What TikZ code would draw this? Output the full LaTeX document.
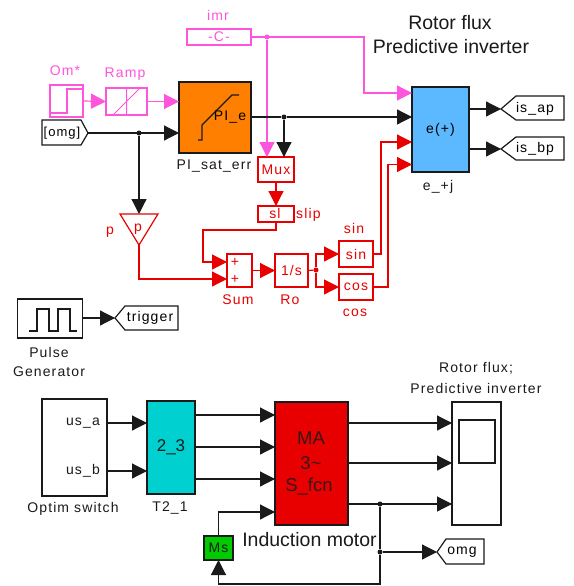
\documentclass[tikz,border=0pt]{standalone}
\usepackage{fontspec}
\setmainfont{Liberation Sans}
\newfontfamily\spaced[LetterSpace=8]{Liberation Sans}
\usetikzlibrary{arrows.meta,positioning}
\definecolor{pk}{HTML}{FF55DD}
\definecolor{rd}{HTML}{E80000}
\definecolor{og}{HTML}{FF8000}
\definecolor{bl}{HTML}{5CB8FF}
\definecolor{cy}{HTML}{00D0D0}
\definecolor{gr}{HTML}{00CC00}
\definecolor{ln}{HTML}{1A1A1A}
\tikzset{
 lab/.style={font=\spaced\fontsize{14}{16}\selectfont,inner sep=0pt,text=ln},
 small/.style={font=\spaced\fontsize{13}{15}\selectfont,inner sep=0pt,text=black},
 big/.style={font=\fontsize{19.5}{22}\selectfont,inner sep=0pt,text=ln},
 motor/.style={font=\fontsize{18.5}{20}\selectfont,inner sep=0pt,text=ln!85!rd},
 blk/.style={draw=#1,line width=1.2pt,inner sep=0pt,outer sep=0pt},
 wire/.style={draw=#1,line width=1.2pt,-{Triangle[length=15pt,width=15pt]}},
 seg/.style={draw=#1,line width=1.2pt},
 dotn/.style={circle,fill=#1,inner sep=0pt,minimum size=5pt},
}
\begin{document}
\begin{tikzpicture}[x=1pt,y=-1pt]
\useasboundingbox (0,0) rectangle (573,586);
\fill[white] (0,0) rectangle (573,586);

% --- titles
\node[big] (t1) at (450,23) {Rotor flux};
\node[big] (t2) at (451,47) {Predictive inverter};

% --- pink blocks
\node[blk=pk,minimum width=64pt,minimum height=16pt,lab,text=pk] (imr) at (219,37) {-C-};
\node[lab,text=pk] (imrl) at (218,15) {imr};
\node[blk=pk,minimum width=33pt,minimum height=32pt] (om) at (66.5,101) {};
\draw[pk,line width=1.2pt] (50,113) -- (67,113) -- (67,89) -- (83,89);
\node[lab,text=pk] (oml) at (65,71) {Om*};
\node[blk=pk,minimum width=41pt,minimum height=27pt] (ramp) at (126.5,101.5) {};
\draw[pk,line width=1pt] (ramp.north) -- (ramp.south) (114,114) -- (139,89);
\node[lab,text=pk] (rampl) at (125,74) {Ramp};

% --- PI block
\node[blk=ln,fill=og,minimum width=72pt,minimum height=71pt] (pi) at (215,117.5) {};
\draw[ln,line width=1.2pt] (198,140) -- (202,140) -- (202,125) -- (232,95) -- (239,95);
\node[lab,text=black] (pit) at (230,117) {PI\_e};
\node[lab] (pil) at (214,166) {PI\_sat\_err};

% --- omg from
\draw[ln,line width=1.2pt] (42,120) -- (81,120) -- (88,133) -- (81,145) -- (42,145) -- cycle;
\coordinate (omgout) at (88,133);
\node[small] (omgt) at (62,133) {[omg]};

% --- e block
\node[blk=ln,fill=bl,minimum width=57pt,minimum height=85pt,lab,text=black] (e) at (440.5,129.5) {e(+)};
\node[lab] (el) at (438,187) {e\_+j};
\coordinate (e1) at (412,93);
\coordinate (e2) at (412,117);
\coordinate (e3) at (412,142);
\coordinate (e4) at (412,164.5);

% --- is gotos
\draw[ln,line width=1.2pt] (501,109) -- (516,96) -- (564,96) -- (564,120) -- (516,120) -- cycle;
\coordinate (ap) at (501,109);
\node[lab,text=black] (apt) at (535,109) {is\_ap};
\draw[ln,line width=1.2pt] (501,149) -- (516,137) -- (564,137) -- (564,160) -- (516,160) -- cycle;
\coordinate (bp) at (501,149);
\node[lab,text=black] (bpt) at (535,149) {is\_bp};

% --- red blocks
\node[blk=rd,minimum width=36pt,minimum height=25pt,lab,text=rd] (mux) at (276,169.5) {Mux};
\node[blk=rd,minimum width=36pt,minimum height=16pt] (sl) at (276,214) {};
\node[lab,text=rd] (slt) at (275,213.5) {sl};
\node[lab,text=rd,anchor=west] (slipl) at (296,215) {slip};
\draw[rd,line width=1.2pt] (120,214) -- (158,214) -- (139,245) -- cycle;
\coordinate (ptop) at (139,214);
\coordinate (pout) at (139,245);
\node[lab,text=rd] (pt) at (138,229) {p};
\node[lab,text=rd] (pl) at (110,232) {p};
\node[blk=rd,minimum width=25pt,minimum height=33pt] (sum) at (239.5,270.5) {};
\node[lab,text=rd] (s1) at (235,262) {+};
\node[lab,text=rd] (s2) at (235,279) {+};
\node[lab,text=rd] (suml) at (238,300) {Sum};
\node[blk=rd,minimum width=33pt,minimum height=33pt,lab,text=rd] (ro) at (291.5,270.5) {1/s};
\node[lab,text=rd] (rol) at (290,300) {Ro};
\node[blk=rd,minimum width=34pt,minimum height=26pt,lab,text=rd] (sin) at (356,254) {sin};
\node[blk=rd,minimum width=34pt,minimum height=26pt,lab,text=rd] (cos) at (356,287) {cos};
\node[lab,text=rd] (sinl) at (354,228) {sin};
\node[lab,text=rd] (cosl) at (355,313) {cos};

% --- pulse
\node[blk=ln,minimum width=65pt,minimum height=39pt] (pulse) at (50,318.5) {};
\draw[ln,line width=1.2pt] (29,331) -- (37,331) -- (37,309) -- (49,309) -- (49,331) -- (58,331) -- (58,309) -- (70,309) -- (70,331) -- (77,331);
\node[lab] (pul1) at (49,352) {Pulse};
\node[lab] (pul2) at (49,372) {Generator};
\draw[ln,line width=1.2pt] (115,318) -- (125,306) -- (178,306) -- (178,330) -- (125,330) -- cycle;
\coordinate (trg) at (115,318);
\node[lab,text=black] (trgt) at (150,318) {trigger};

% --- lower row
\node[blk=ln,minimum width=65pt,minimum height=97pt] (opt) at (74.5,447.5) {};
\node[lab,anchor=east] (usa) at (100,423) {us\_a};
\node[lab,anchor=east] (usb) at (100,471) {us\_b};
\node[lab] (optl) at (73,509) {Optim switch};
\node[blk=ln,fill=cy,minimum width=48pt,minimum height=93pt,inner sep=0pt,font=\fontsize{17}{19}\selectfont,text=ln] (t) at (171,447.5) {2\_3};
\node[lab] (tl) at (170,508) {T2\_1};
\node[blk=ln,fill=rd,minimum width=73pt,minimum height=123pt] (ma) at (311.5,463.5) {};
\node[motor] (ma1) at (311,438) {MA};
\node[motor] (ma2) at (311,463) {3\char`\~};
\node[motor] (ma3) at (309,487) {S\_fcn};
\node[big] (mal) at (309.5,540) {Induction motor};
\node[blk=ln,fill=gr,minimum width=29pt,minimum height=24pt,lab,text=ln] (ms) at (218.5,548) {Ms};
\node[blk=ln,minimum width=49pt,minimum height=123pt] (sc) at (476.5,463.5) {};
\node[blk=ln,minimum width=36pt,minimum height=43pt] (sci) at (477,441.5) {};
\node[lab] (scl1) at (476,368) {Rotor flux;};
\node[lab] (scl2) at (476,388) {Predictive inverter};
\draw[ln,line width=1.2pt] (437,552) -- (446,539) -- (484,539) -- (484,564) -- (446,564) -- cycle;
\coordinate (omgg) at (437,552);
\node[lab,text=black] (omggt) at (462,552) {omg};

% --- junctions
\node[dotn=pk] (jpk) at (267,37) {};
\node[dotn=ln] (jo) at (139,133) {};
\node[dotn=ln] (jp) at (284,117) {};
\node[dotn=rd] (jr) at (316,270) {};
\node[dotn=ln] (jm) at (380,504) {};
\node[dotn=ln] (jg) at (380,552) {};

% --- pink wires
\draw[wire=pk] (om.east) -- (ramp.west);
\draw[wire=pk] (ramp.east) -- (ramp.east -| pi.west);
\draw[wire=pk] (imr.east) -- (364,37) -- (364,93) -- (e1);
\draw[wire=pk] (jpk) -- (jpk |- mux.north);

% --- black wires
\draw[wire=ln] (omgout) -- (omgout -| pi.west);
\draw[wire=ln] (jo) -- (ptop);
\draw[wire=ln] (jp) -- (e2);
\draw[seg=ln] (pi.east |- jp) -- (jp);
\draw[wire=ln] (jp) -- (jp |- mux.north);
\draw[wire=ln] (ap -| e.east) -- (ap);
\draw[wire=ln] (bp -| e.east) -- (bp);
\draw[wire=ln] (pulse.east |- trg) -- (trg);
\draw[wire=ln] (opt.east |- usa) -- (t.west |- usa);
\draw[wire=ln] (opt.east |- usb) -- (t.west |- usb);
\draw[wire=ln] (195,415) -- (275,415);
\draw[wire=ln] (195,447) -- (275,447);
\draw[wire=ln] (195,479) -- (275,479);
\draw[wire=ln] (ms.north) -- (218.5,512) -- (275,512);
\draw[wire=ln] (348,423) -- (452,423);
\draw[wire=ln] (348,463) -- (452,463);
\draw[wire=ln] (348,504) -- (452,504);
\draw[seg=ln] (jm) -- (jg);
\draw[wire=ln] (jg) -- (omgg);
\draw[wire=ln] (jg) -- (380,584) -- (218.5,584) -- (ms.south);

% --- red wires
\draw[wire=rd] (mux.south) -- (sl.north);
\draw[wire=rd] (sl.south) -- (276,230) -- (203,230) -- (203,262) -- (227,262);
\draw[wire=rd] (pout) -- (139,279) -- (227,279);
\draw[wire=rd] (sum.east) -- (ro.west);
\draw[seg=rd] (ro.east) -- (jr);
\draw[wire=rd] (jr) -- (316,254) -- (sin.west);
\draw[wire=rd] (jr) -- (316,287) -- (cos.west);
\draw[wire=rd] (sin.east) -- (381,254) -- (381,142) -- (e3);
\draw[wire=rd] (cos.east) -- (388,287) -- (388,164.5) -- (e4);
\end{tikzpicture}
\end{document}
